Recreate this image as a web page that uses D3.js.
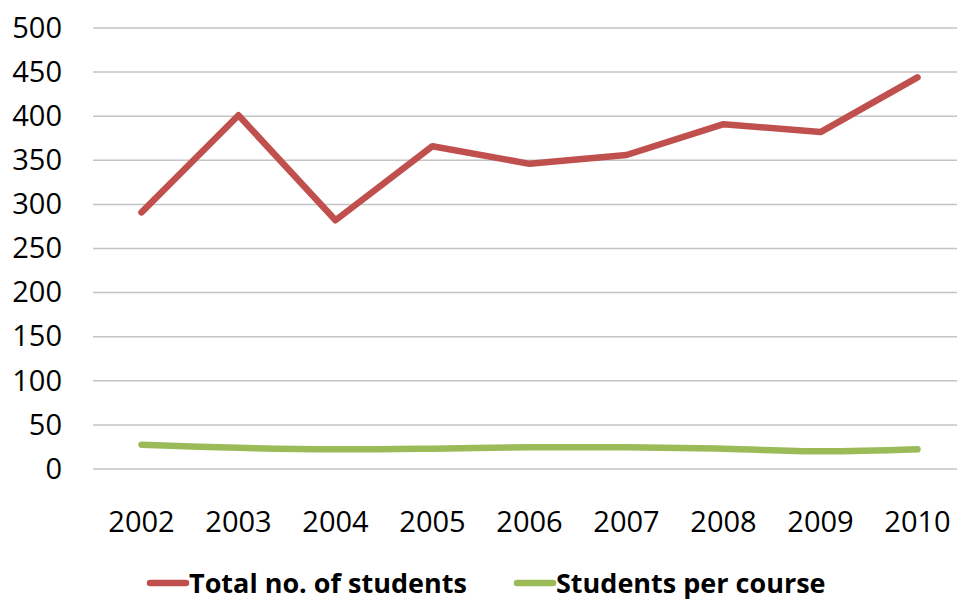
<!DOCTYPE html>
<html>
<head>
<meta charset="utf-8">
<script src="https://cdn.jsdelivr.net/npm/d3@7"></script>
<style>
  body { margin: 0; background: #fff; }
  svg { display: block; }
</style>
</head>
<body>
<svg id="chart" width="957" height="601"></svg>
<script>
const years = ['2002', '2003', '2004', '2005', '2006', '2007', '2008', '2009', '2010'];
const totalStudents = [291, 401, 282, 366, 346, 356, 391, 382, 444];
const studentsPerCourse = [27.5, 24, 22.3, 23, 24.6, 24.6, 23, 20, 22.3];
const yTicks = [0, 50, 100, 150, 200, 250, 300, 350, 400, 450, 500];

const svg = d3.select('#chart');
const font = '"Open Sans", sans-serif';

const x = d3.scaleBand().domain(years).range([93, 966]);
const y = d3.scaleLinear().domain([0, 500]).range([469, 28]);

// gridlines
svg.append('g')
  .selectAll('line')
  .data(yTicks)
  .join('line')
  .attr('x1', 93)
  .attr('x2', 957)
  .attr('y1', d => y(d))
  .attr('y2', d => y(d))
  .attr('stroke', '#c4c4c4')
  .attr('stroke-width', 1.5);

// y labels
const yAxis = svg.append('g')
  .attr('transform', 'translate(62,0)')
  .call(d3.axisLeft(y).tickValues(yTicks).tickSize(0).tickPadding(0));
yAxis.select('.domain').remove();
yAxis.selectAll('text')
  .attr('font-family', font)
  .attr('font-size', 29)
  .attr('fill', '#000');

// x labels
const xAxis = svg.append('g')
  .attr('transform', 'translate(0,511)')
  .call(d3.axisBottom(x).tickSize(0).tickPadding(0));
xAxis.select('.domain').remove();
xAxis.selectAll('text')
  .attr('font-family', font)
  .attr('font-size', 29)
  .attr('fill', '#000');

const cx = d => x(d) + x.bandwidth() / 2;

const lineTotal = d3.line()
  .x((d, i) => cx(years[i]))
  .y(d => y(d));

const linePer = d3.line()
  .x((d, i) => cx(years[i]))
  .y(d => y(d))
  .curve(d3.curveCatmullRom);

svg.append('path')
  .datum(totalStudents)
  .attr('d', lineTotal)
  .attr('fill', 'none')
  .attr('stroke', '#c0504d')
  .attr('stroke-width', 6.5)
  .attr('stroke-linejoin', 'round')
  .attr('stroke-linecap', 'round');

svg.append('path')
  .datum(studentsPerCourse)
  .attr('d', linePer)
  .attr('fill', 'none')
  .attr('stroke', '#9bbb59')
  .attr('stroke-width', 6.5)
  .attr('stroke-linejoin', 'round')
  .attr('stroke-linecap', 'round');

// legend
const legendItems = [
  { label: 'Total no. of students', color: '#c0504d', x: 150 },
  { label: 'Students per course', color: '#9bbb59', x: 517 }
];
const legend = svg.append('g');
legendItems.forEach(item => {
  legend.append('line')
    .attr('x1', item.x)
    .attr('x2', item.x + 36)
    .attr('y1', 583)
    .attr('y2', 583)
    .attr('stroke', item.color)
    .attr('stroke-width', 6.5)
    .attr('stroke-linecap', 'round');
  legend.append('text')
    .attr('x', item.x + 39)
    .attr('y', 593)
    .attr('font-family', font)
    .attr('font-weight', 'bold')
    .attr('font-size', 27)
    .attr('fill', '#000')
    .text(item.label);
});
</script>
</body>
</html>
